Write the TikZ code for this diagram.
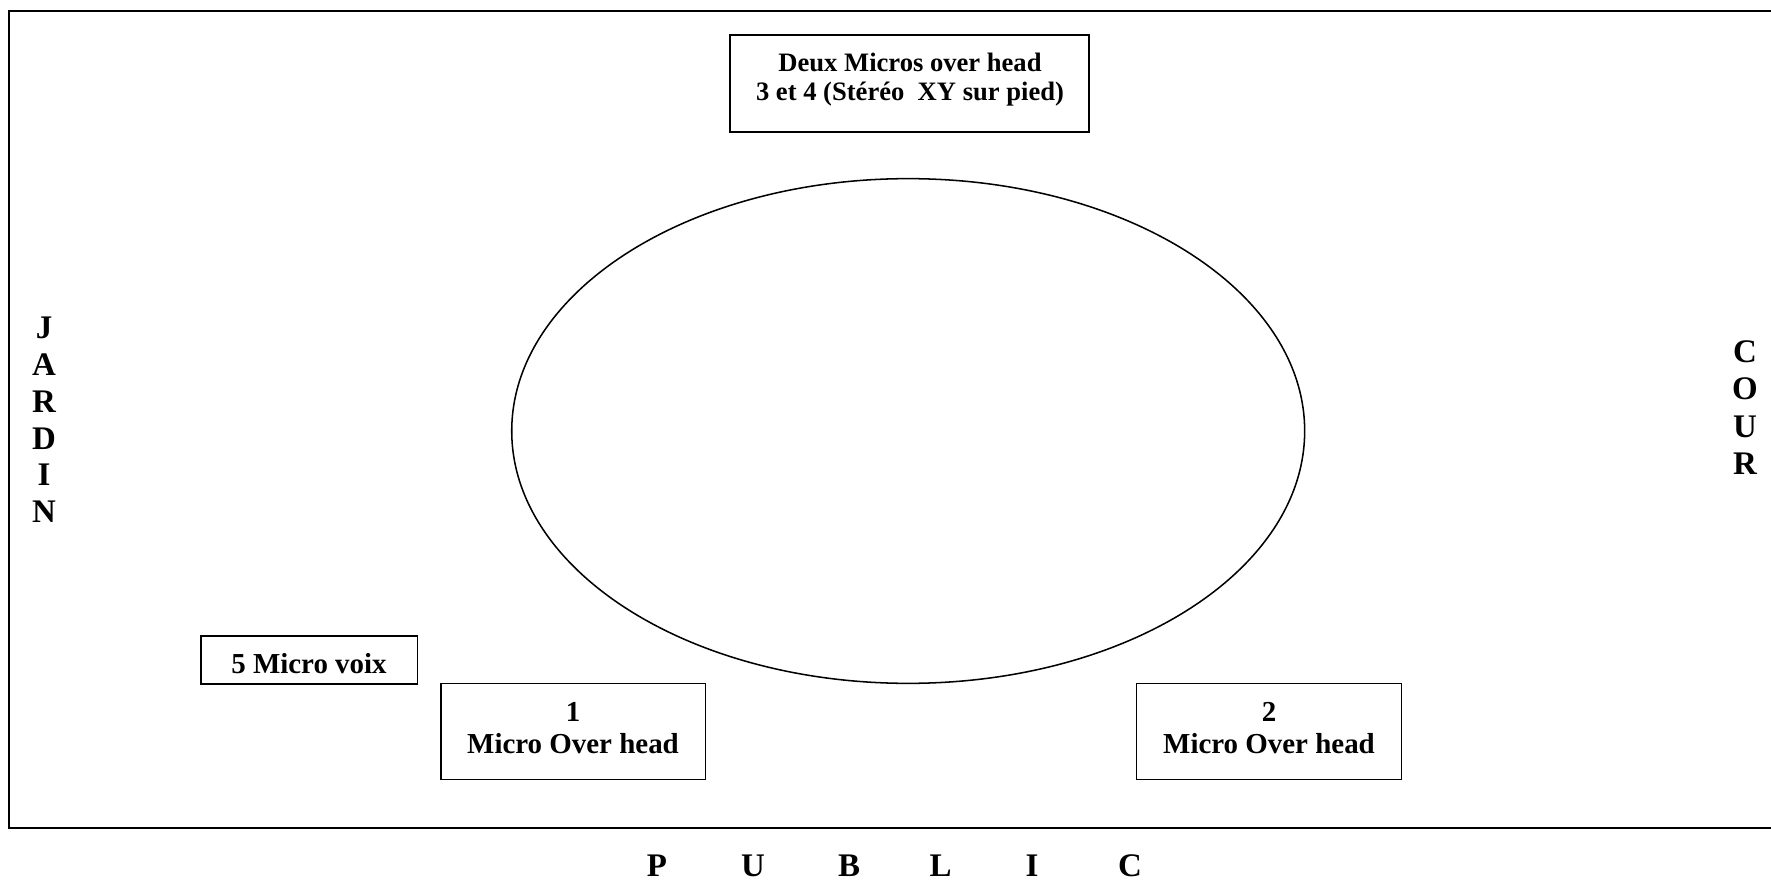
\documentclass[tikz,border=0pt]{standalone}
\usepackage{fontspec}
\setmainfont{Liberation Serif}
\usetikzlibrary{shapes.geometric}
\begin{document}
\begin{tikzpicture}[x=0.425pt,y=-0.425pt,
  frame/.style={draw, line width=0.7pt},
  micbox/.style={draw, line width=0.6pt, rectangle, inner sep=0pt},
  stagering/.style={draw, line width=0.65pt, ellipse, inner sep=0pt},
  boxtext/.style={anchor=base, inner sep=0pt, font=\fontsize{12.3}{13.5}\selectfont\bfseries},
  smalltext/.style={anchor=base, inner sep=0pt, font=\fontsize{11.3}{12.5}\selectfont\bfseries},
  sidetext/.style={anchor=north, align=center, inner sep=0pt},
  publictext/.style={anchor=base, inner sep=0pt, font=\fontsize{14}{16}\selectfont\bfseries}]
\useasboundingbox (0,0) rectangle (1771,882);
\clip (0,0) rectangle (1771,882);
% outer stage frame (right edge beyond the picture)
\draw[frame] (9,11.3) rectangle (1790,828);
% stage ellipse
\node[stagering, minimum width=337pt, minimum height=214.5pt] (scene) at (908.2,431) {};
% boxes
\node[micbox, minimum width=152.6pt, minimum height=41.2pt] (topbox) at (909.5,83.5) {};
\node[micbox, minimum width=92pt, minimum height=20.4pt] (voixbox) at (309.25,660) {};
\node[micbox, minimum width=112.4pt, minimum height=40.8pt] (box1) at (573.25,731.3) {};
\node[micbox, minimum width=112.8pt, minimum height=40.8pt] (box2) at (1269,731.3) {};
% texts
\node[smalltext] (top1) at (910,71.5) {Deux Micros over head};
\node[smalltext] (top2) at (910,100.5) {3 et 4 (Stéréo\ \ XY sur pied)};
\node[boxtext] (voixt) at (309,673.3) {5 Micro voix};
\node[boxtext] (m1a) at (573,721.7) {1};
\node[boxtext] (m1b) at (573,753.3) {Micro Over head};
\node[boxtext] (m2a) at (1269,721.7) {2};
\node[boxtext] (m2b) at (1269,753.3) {Micro Over head};
% sides
\node[sidetext, font=\fontsize{14}{15.64}\selectfont\bfseries] (jardin) at (44,316.7) {J\\A\\R\\D\\I\\N};
\node[sidetext, font=\fontsize{14}{15.8}\selectfont\bfseries] (cour) at (1745,340.5) {C\\O\\U\\R};
% public
\foreach \ch/\px [count=\i] in {P/657,U/753,B/849,L/940.6,I/1032,C/1130}
  \node[publictext] (pub\i) at (\px,876) {\ch};
\end{tikzpicture}
\end{document}
